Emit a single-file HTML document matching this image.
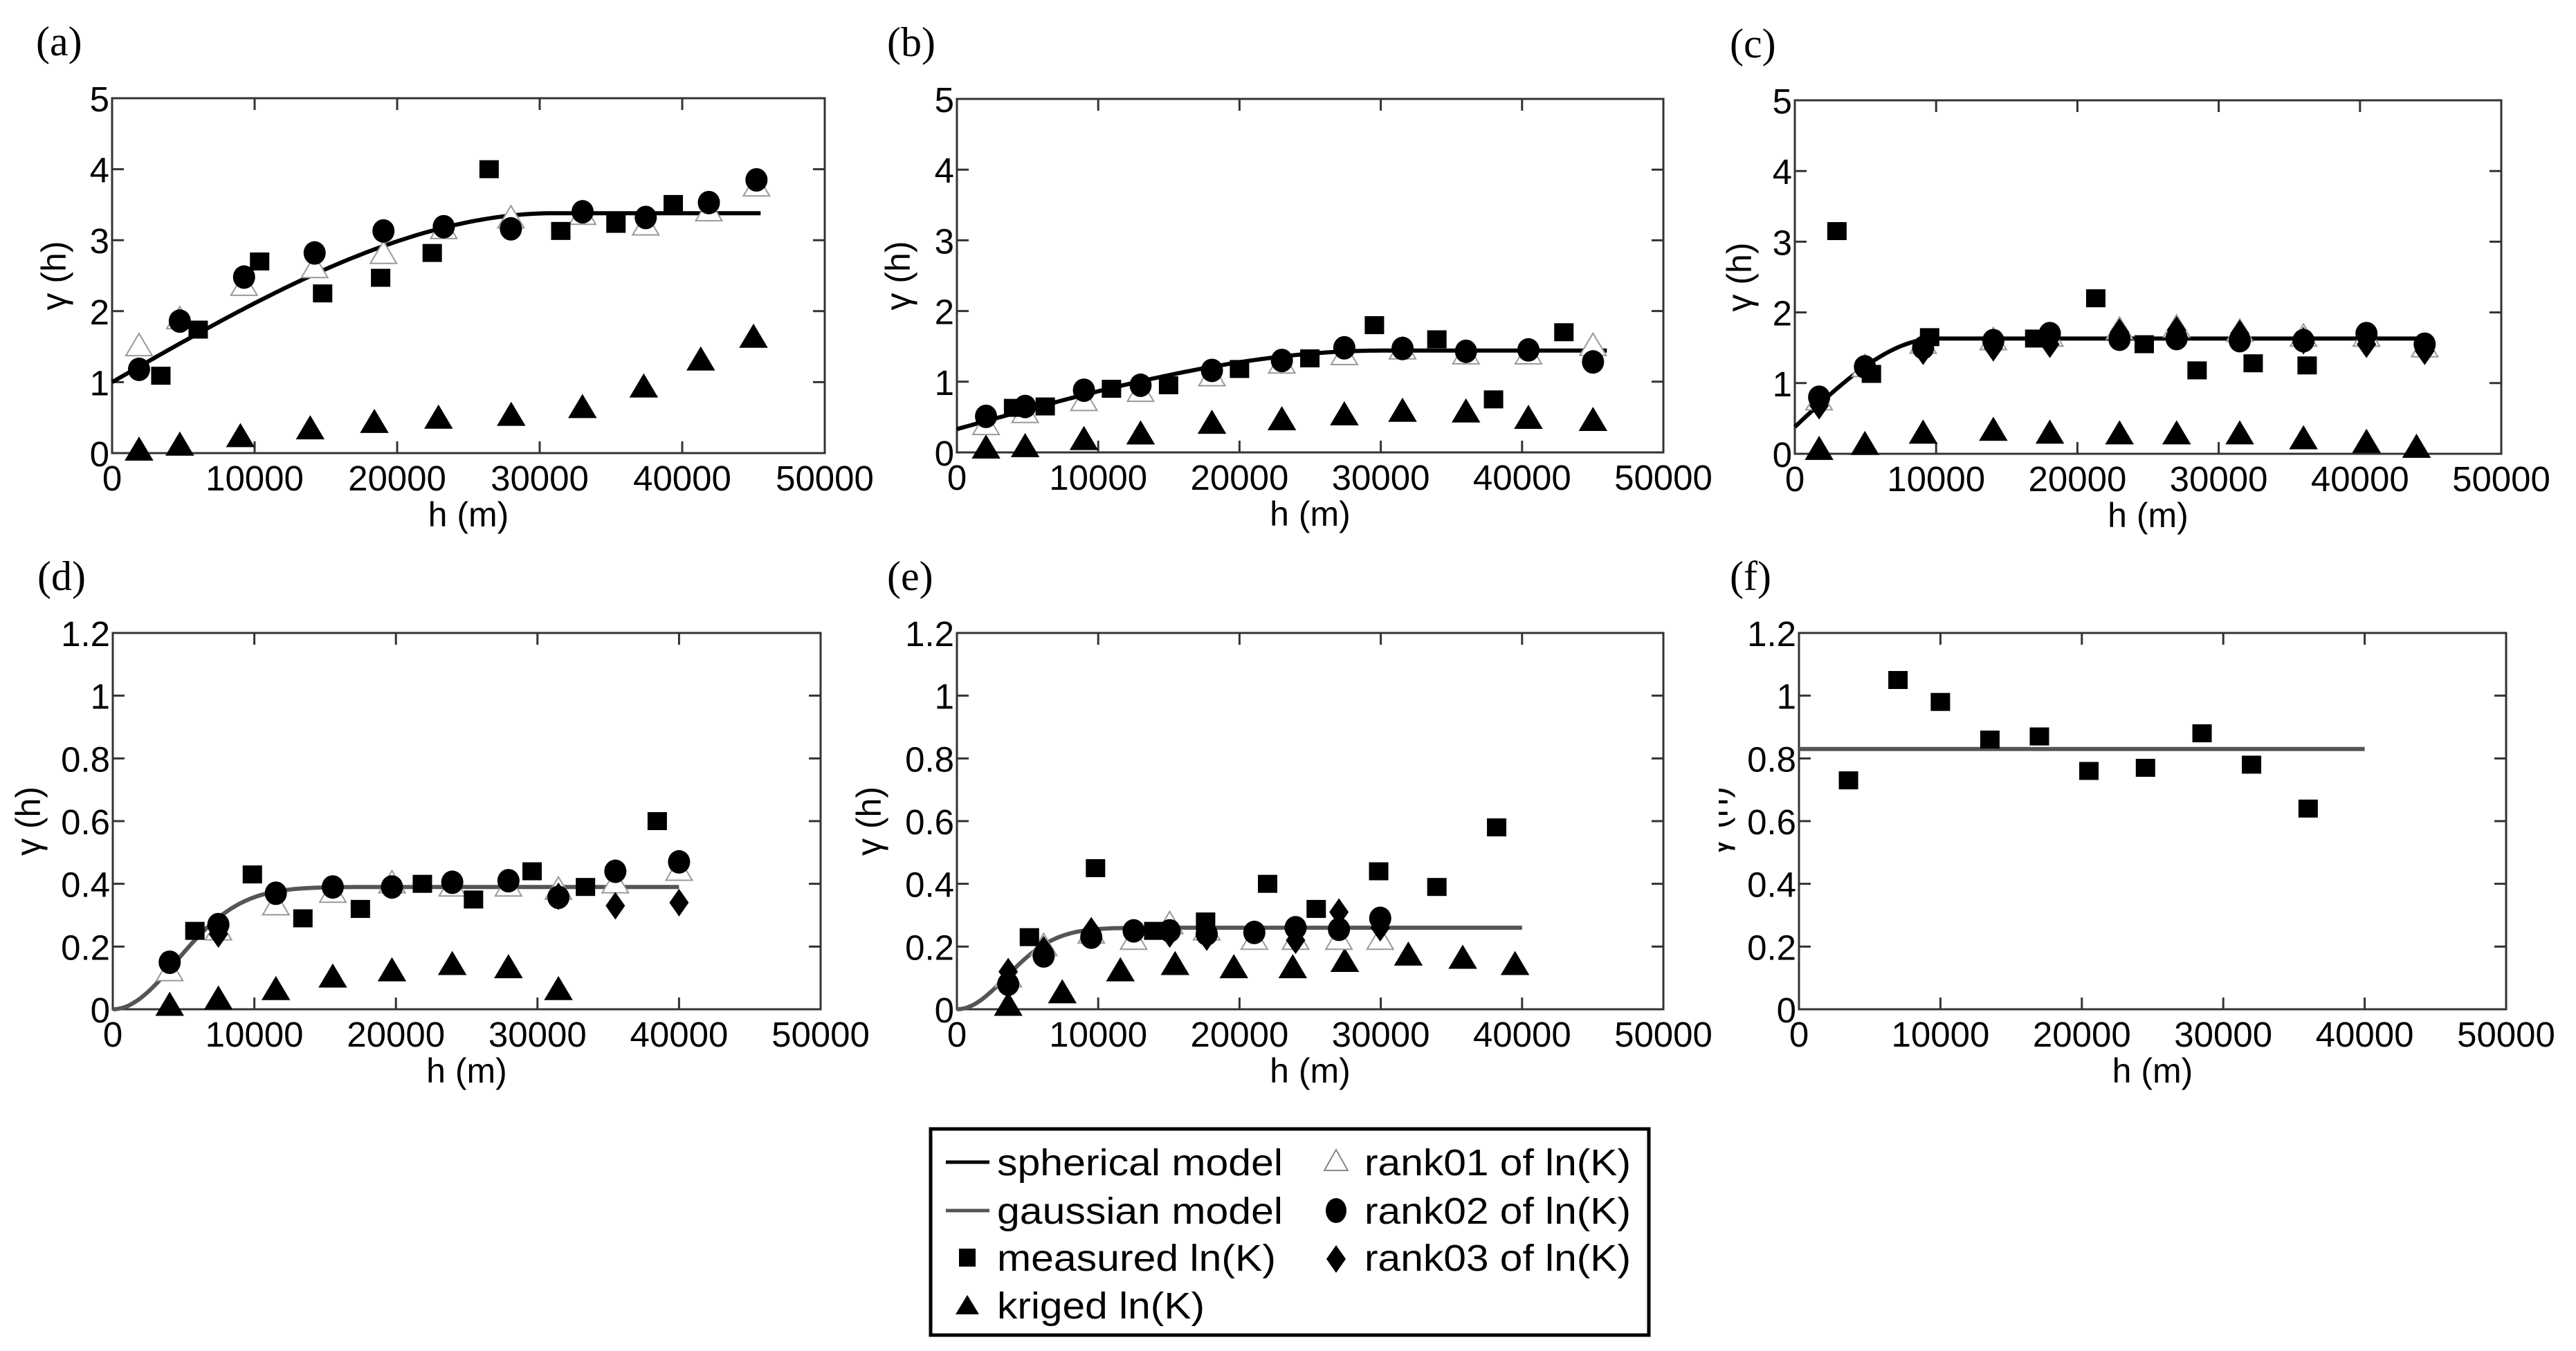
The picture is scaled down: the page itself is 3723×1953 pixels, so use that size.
<!DOCTYPE html>
<html><head><meta charset="utf-8"><style>
html,body{margin:0;padding:0;background:#fff;}
svg{display:block;font-family:"Liberation Sans",Arial,sans-serif;}
</style></head><body>
<svg id="fig" width="3723" height="1953" viewBox="0 0 3723 1953" xmlns="http://www.w3.org/2000/svg">
<defs><clipPath id="clipf"><rect x="2484" y="0" width="1239" height="1953"/></clipPath></defs>
<g id="panels"></g>
<g>
  <rect x="1345" y="1632" width="1038" height="298" fill="#fff" stroke="#000" stroke-width="5"/>
  <g>
    <line x1="1367" y1="1680" x2="1430" y2="1680" stroke="#000" stroke-width="5"/>
    <text x="1441" y="1699" font-size="54" textLength="413" lengthAdjust="spacingAndGlyphs">spherical model</text></g>
  <g>
    <line x1="1367" y1="1750" x2="1430" y2="1750" stroke="#555" stroke-width="5"/>
    <text x="1441" y="1769" font-size="54" textLength="413" lengthAdjust="spacingAndGlyphs">gaussian model</text></g>
  <g>
    <rect x="1386" y="1805" width="24" height="26" fill="#000"/>
    <text x="1441" y="1837" font-size="54" textLength="403" lengthAdjust="spacingAndGlyphs">measured ln(K)</text></g>
  <g>
    <polygon points="1398,1872 1415,1900 1381,1900" fill="#000"/>
    <text x="1441" y="1906" font-size="54" textLength="300" lengthAdjust="spacingAndGlyphs">kriged ln(K)</text></g>
  <g>
    <polygon points="1931,1662 1948,1692 1914,1692" fill="#fff" stroke="#888" stroke-width="2"/>
    <text x="1972" y="1699" font-size="54" textLength="385" lengthAdjust="spacingAndGlyphs">rank01 of ln(K)</text></g>
  <g>
    <ellipse cx="1931" cy="1750" rx="15" ry="18" fill="#000"/>
    <text x="1972" y="1769" font-size="54" textLength="385" lengthAdjust="spacingAndGlyphs">rank02 of ln(K)</text></g>
  <g>
    <polygon points="1931,1800 1945,1820 1931,1840 1917,1820" fill="#000"/>
    <text x="1972" y="1837" font-size="54" textLength="385" lengthAdjust="spacingAndGlyphs">rank03 of ln(K)</text></g>
</g>
</svg>
<script>
// ---------- data ----------
const xTicks = [0,10000,20000,30000,40000,50000];
const xTickLabels = ["0","10000","20000","30000","40000","50000"];
const yTicksTop = [0,1,2,3,4,5];
const yTickLabelsTop = ["0","1","2","3","4","5"];
const yTicksBot = [0,0.2,0.4,0.6,0.8,1.0,1.2];
const yTickLabelsBot = ["0","0.2","0.4","0.6","0.8","1","1.2"];

// panel a
const aMeasX = [3420,6040,10350,14770,18840,22460,26450,31480,35350,39370];
const aMeasY = [1.09,1.74,2.70,2.25,2.47,2.82,4.00,3.13,3.23,3.51];
const aLagX = [1890,4750,9260,14210,19040,23270,27980,33010,37440,41870,45210];
const aR1 = [1.50,1.88,2.35,2.60,2.80,3.15,3.30,3.35,3.20,3.40,3.75];
const aR2 = [1.18,1.86,2.48,2.82,3.13,3.19,3.16,3.40,3.32,3.53,3.85];
const aKrigX = [1890,4750,9000,13900,18400,22900,28000,33000,37300,41300,45000];
const aKrig = [0.03,0.10,0.22,0.33,0.42,0.48,0.52,0.63,0.92,1.30,1.62];
const aModel = [1.0,3.38,31000,45500]; // nugget, sill, range, maxh
// panel b
const bMeasX = [4010,6250,10940,14980,20000,24980,29550,33970,37980,42960];
const bMeasY = [0.63,0.65,0.90,0.95,1.18,1.33,1.80,1.60,0.75,1.70];
const bLagX = [2060,4830,8990,13000,18050,23000,27420,31540,36030,40450,45020];
const bR1 = [0.38,0.55,0.72,0.85,1.07,1.25,1.37,1.45,1.38,1.38,1.50];
const bR2 = [0.51,0.65,0.88,0.95,1.16,1.30,1.48,1.47,1.43,1.45,1.28];
const bKrig = [0.05,0.07,0.17,0.25,0.40,0.45,0.52,0.57,0.56,0.47,0.44];
const bModel = [0.33,1.44,30000,46000];
// panel c
const cMeasX = [2980,5420,9540,16980,21300,24730,28470,32440,36260];
const cMeasY = [3.15,1.13,1.65,1.63,2.20,1.55,1.18,1.28,1.25];
const cLagX = [1720,4960,9080,14050,18050,22980,27020,31490,36000,40460,44580];
const cR1 = [0.75,1.22,1.55,1.60,1.65,1.75,1.78,1.72,1.65,1.65,1.50];
const cR2 = [0.80,1.23,1.50,1.60,1.70,1.62,1.63,1.60,1.60,1.70,1.55];
const cR3 = [0.68,1.20,1.45,1.50,1.55,1.72,1.75,1.70,1.60,1.55,1.45];
const cKrigX = [1720,4960,9080,14050,18050,22980,27020,31490,36000,40460,44000];
const cKrig = [0.05,0.12,0.28,0.32,0.28,0.27,0.27,0.27,0.20,0.15,0.08];
const cModel = [0.38,1.63,10000,45000];
// panel d
const dMeasX = [5800,9860,13430,17490,21870,25480,29620,33390,38460];
const dMeasY = [0.25,0.43,0.29,0.32,0.40,0.35,0.44,0.39,0.60];
const dLagX = [4020,7460,11520,15540,19720,23980,27950,31480,35500,40000];
const dR1 = [0.12,0.25,0.33,0.37,0.40,0.39,0.39,0.38,0.40,0.44];
const dR2 = [0.15,0.27,0.37,0.39,0.39,0.405,0.41,0.357,0.44,0.47];
const dR3X = [7460,31480,35500,40000];
const dR3 = [0.24,0.36,0.33,0.34];
const dKrigX = [4020,7460,11520,15540,19720,23980,27950,31480];
const dKrig = [0.01,0.03,0.06,0.10,0.12,0.14,0.13,0.06];
const dModel = [0,0.39,11000,40000];
// panel e
const eMeasX = [5130,9810,13930,17600,21990,25430,29850,33970,38200];
const eMeasY = [0.23,0.45,0.25,0.28,0.40,0.32,0.44,0.39,0.58];
const eLagX = [3630,6140,9510,12510,15060,17680,21050,23970,27040,29960];
const eR1 = [0.10,0.20,0.24,0.22,0.27,0.25,0.22,0.22,0.22,0.22];
const eR2 = [0.08,0.17,0.23,0.25,0.25,0.24,0.245,0.26,0.255,0.29];
const eR3X = [3630,6140,9510,15060,17680,23970,27040,29960];
const eR3 = [0.12,0.19,0.25,0.24,0.23,0.22,0.31,0.26];
const eKrigX = [3630,7460,11570,15440,19600,23770,27450,31950,35800,39500];
const eKrig = [0.01,0.05,0.12,0.14,0.13,0.13,0.15,0.17,0.16,0.14];
const eModel = [0,0.26,8500,40000];
// panel f
const fMeasX = [3500,7000,10000,13500,17000,20500,24500,28500,32000,36000];
const fMeasY = [0.73,1.05,0.98,0.86,0.87,0.76,0.77,0.88,0.78,0.64];
const fModel = [0.83,0.83,1,40000];

// ---------- drawing ----------
const NS = "http://www.w3.org/2000/svg";
const root = document.getElementById('panels');
function mk(tag, attrs, parent){ const e=document.createElementNS(NS,tag); for(const k in attrs) e.setAttribute(k,attrs[k]); (parent||root).appendChild(e); return e; }

function panel(p){
  const g = mk('g',{});
  
  
  const sx = v => p.L + (v - 0)/50000*(p.R - p.L);
  const sy = v => p.B - (v - 0)/p.ymax*(p.B - p.T);
  // panel letter
  const lt = mk('text',{x:p.lx,y:p.T-62,'font-size':60,'font-family':'"Liberation Serif",serif'},g);
  lt.textContent = '(' + p.id + ')';
  
  
  // axes frame
  const fr = mk('rect',{x:p.L,y:p.T,width:p.R-p.L,height:p.B-p.T,fill:'none',stroke:'#333','stroke-width':3},g);
  
  
  // x ticks
  xTicks.forEach((t,i)=>{
    const x = sx(t);
    if(i>0 && i<xTicks.length-1){
      mk('line',{x1:x,y1:p.B,x2:x,y2:p.B-17,stroke:'#333','stroke-width':3},g);
      mk('line',{x1:x,y1:p.T,x2:x,y2:p.T+17,stroke:'#333','stroke-width':3},g);
    }
    const tx = mk('text',{x:x,y:p.B+54,'font-size':51,'text-anchor':'middle'},g);
    tx.textContent = xTickLabels[i];
    
    
  });
  // y ticks
  p.yt.forEach((t,i)=>{
    const y = sy(t);
    if(i>0 && i<p.yt.length-1){
      mk('line',{x1:p.L,y1:y,x2:p.L+17,y2:y,stroke:'#333','stroke-width':3},g);
      mk('line',{x1:p.R,y1:y,x2:p.R-17,y2:y,stroke:'#333','stroke-width':3},g);
    }
    const ty = mk('text',{x:p.L-4,y:y+19,'font-size':51,'text-anchor':'end'},g);
    ty.textContent = p.ytl[i];
    
    
  });
  // axis titles
  const xt = mk('text',{x:(p.L+p.R)/2,y:p.B+106,'font-size':50,'text-anchor':'middle'},g);
  xt.textContent = 'h (m)';
  
  
  const yg = mk('g', p.clip ? {'clip-path':'url(#clipf)'} : {}, g);
  const yc = (p.T+p.B)/2;
  const yt = mk('text',{x:p.yx,y:yc,'font-size':50,'text-anchor':'middle',transform:'rotate(-90 '+p.yx+' '+yc+')'},yg);
  yt.textContent = 'γ (h)';
  
  
  // model curve
  if(p.model){
    const [c0,c,a,hmax] = p.model;
    let d='';
    for(let i=0;i<=200;i++){
      const h = hmax*i/200;
      let v;
      if(p.mtype==='sph'){ v = h>=a ? c : c0 + (c-c0)*(1.5*h/a - 0.5*Math.pow(h/a,3)); }
      else if(p.mtype==='gau'){ v = c0 + (c-c0)*(1-Math.exp(-3*(h/a)*(h/a))); }
      else { v = c; }
      d += (i?'L':'M') + sx(h).toFixed(1) + ' ' + sy(v).toFixed(1);
    }
    const ml = mk('path',{d:d,fill:'none',stroke:p.mtype==='sph'?'#000':'#555','stroke-width':6},g);
    
    
  }
  // markers
  const tri = (xs,ys,fill,stroke,name)=>xs.forEach((xv,i)=>{
    const x=sx(xv), y=sy(ys[i]);
    const m = mk('polygon',{points:`${x},${y-19} ${x+19},${y+13} ${x-19},${y+13}`,fill:fill,stroke:stroke,'stroke-width':2},g);
    
    
  });
  const sq = (xs,ys)=>xs.forEach((xv,i)=>{
    const m = mk('rect',{x:sx(xv)-14,y:sy(ys[i])-13,width:28,height:26,fill:'#000'},g);
    
    
  });
  const circ = (xs,ys)=>xs.forEach((xv,i)=>{
    const m = mk('ellipse',{cx:sx(xv),cy:sy(ys[i]),rx:16,ry:17,fill:'#000'},g);
    
    
  });
  const dia = (xs,ys)=>xs.forEach((xv,i)=>{
    const x=sx(xv), y=sy(ys[i]);
    const m = mk('polygon',{points:`${x},${y-20} ${x+14},${y} ${x},${y+20} ${x-14},${y}`,fill:'#000'},g);
    
    
  });
  if(p.krig) tri(p.krigX,p.krig,'#000','#000','kriged-point');
  if(p.r1) tri(p.lagX,p.r1,'#fff','#999','rank01-point');
  if(p.r3) dia(p.r3X,p.r3);
  if(p.r2) circ(p.lagX,p.r2);
  sq(p.measX,p.measY);
}

panel({id:'a',L:162,R:1192,T:142,B:655,ymax:5,yt:yTicksTop,ytl:yTickLabelsTop,lx:52,yx:95,
  measX:aMeasX,measY:aMeasY,lagX:aLagX,r1:aR1,r2:aR2,krigX:aKrigX,krig:aKrig,model:aModel,mtype:'sph'});
panel({id:'b',L:1383,R:2404,T:143,B:654,ymax:5,yt:yTicksTop,ytl:yTickLabelsTop,lx:1282,yx:1315,
  measX:bMeasX,measY:bMeasY,lagX:bLagX,r1:bR1,r2:bR2,krigX:bLagX,krig:bKrig,model:bModel,mtype:'sph'});
panel({id:'c',L:2594,R:3615,T:145,B:656,ymax:5,yt:yTicksTop,ytl:yTickLabelsTop,lx:2500,yx:2531,
  measX:cMeasX,measY:cMeasY,lagX:cLagX,r1:cR1,r2:cR2,r3X:cLagX,r3:cR3,krigX:cKrigX,krig:cKrig,model:cModel,mtype:'sph'});
panel({id:'d',L:163,R:1186,T:915,B:1459,ymax:1.2,yt:yTicksBot,ytl:yTickLabelsBot,lx:54,yx:58,
  measX:dMeasX,measY:dMeasY,lagX:dLagX,r1:dR1,r2:dR2,r3X:dR3X,r3:dR3,krigX:dKrigX,krig:dKrig,model:dModel,mtype:'gau'});
panel({id:'e',L:1383,R:2404,T:915,B:1459,ymax:1.2,yt:yTicksBot,ytl:yTickLabelsBot,lx:1282,yx:1273,
  measX:eMeasX,measY:eMeasY,lagX:eLagX,r1:eR1,r2:eR2,r3X:eR3X,r3:eR3,krigX:eKrigX,krig:eKrig,model:eModel,mtype:'gau'});
panel({id:'f',L:2600,R:3622,T:915,B:1459,ymax:1.2,yt:yTicksBot,ytl:yTickLabelsBot,lx:2500,yx:2497,clip:true,
  measX:fMeasX,measY:fMeasY,model:fModel,mtype:'flat'});
</script>
</body></html>
